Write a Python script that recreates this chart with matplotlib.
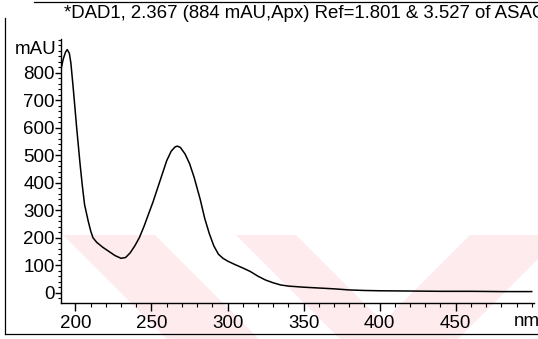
import matplotlib
matplotlib.use("Agg")
import matplotlib.pyplot as plt
from matplotlib.patches import Polygon
from matplotlib.lines import Line2D
from matplotlib.ticker import FixedLocator, MultipleLocator

# UV spectrum of the DAD1 peak at 2.367 min
wavelength_nm = [190.8, 192, 193.5, 194.6, 196, 197, 198.6, 200.8, 203, 204.5,
                 206, 208.4, 210, 211.5, 214, 218, 222, 226, 230, 233,
                 236, 239, 242, 245, 248, 251, 254, 257, 260, 263,
                 265.5, 267, 269, 272, 275, 278, 282, 285, 288, 291,
                 294, 297, 300, 305, 310, 315, 320, 325, 330, 335,
                 340, 350, 360, 370, 380, 390, 400, 420, 440, 460, 480, 500]
absorbance_mau = [820, 850, 875, 884, 870, 835, 740, 600, 470, 390,
                  320, 260, 225, 200, 183, 165, 150, 135, 125, 128,
                  145, 170, 200, 240, 285, 330, 380, 430, 480, 515,
                  530, 533, 528, 505, 470, 420, 340, 270, 215, 170,
                  140, 125, 115, 102, 90, 77, 60, 46, 36, 28,
                  24, 20, 17, 14, 10, 8, 7, 6, 5, 5, 4, 4]

y_ticks = [0, 100, 200, 300, 400, 500, 600, 700, 800]
x_ticks = [200, 250, 300, 350, 400, 450]
title_text = "*DAD1, 2.367 (884 mAU,Apx) Ref=1.801 & 3.527 of ASAC"

W, H = 538, 339
fig = plt.figure(figsize=(W / 100, H / 100), dpi=100)
plt.rcParams['font.family'] = ['Liberation Sans', 'DejaVu Sans']


def px(x, y):
    return (x / W, 1 - y / H)


# pale pink stripes in the background
pink = '#fdebee'
stripes = [
    [(63, 235), (155, 235), (259, 339), (167, 339)],
    [(236, 235), (296, 235), (400, 339), (340, 339)],
    [(470, 235), (562, 235), (458, 339), (366, 339)],
]
for pts in stripes:
    fig.patches.append(Polygon([px(*p) for p in pts], closed=True,
                               transform=fig.transFigure, facecolor=pink,
                               edgecolor='none', zorder=-5))

# outer frame
frame_kw = dict(transform=fig.transFigure, color='black', lw=0.9, zorder=1)
fig.lines.append(Line2D([5 / W, 5 / W], [1 - 18 / H, 1 - 334 / H], **frame_kw))
fig.lines.append(Line2D([5 / W, 1], [1 - 334 / H, 1 - 334 / H], **frame_kw))
fig.lines.append(Line2D([34 / W, 1], [1 - 2 / H, 1 - 2 / H], **frame_kw))

ax = fig.add_axes([61 / W, 1 - 303 / H, (534 - 61) / W, (303 - 39) / H])
ax.set_zorder(5)
ax.patch.set_visible(False)
ax.plot(wavelength_nm, absorbance_mau, color='black', lw=1.1)

ax.set_xlim(190.5, 501.5)
ax.set_ylim(-37.5, 922.5)
for s in ('top', 'right'):
    ax.spines[s].set_visible(False)
for s in ('left', 'bottom'):
    ax.spines[s].set_linewidth(1.0)

ax.yaxis.set_major_locator(FixedLocator(y_ticks))
ax.yaxis.set_minor_locator(MultipleLocator(20))
ax.xaxis.set_major_locator(FixedLocator(x_ticks))
ax.xaxis.set_minor_locator(MultipleLocator(10))
ax.tick_params(axis='y', which='major', direction='out', length=4, width=1.0,
               pad=0.5, labelsize=13.5)
ax.tick_params(axis='y', which='minor', direction='out', length=2, width=0.8)
ax.tick_params(axis='x', which='major', direction='out', length=6, width=1.0,
               pad=3, labelsize=13.5)
ax.tick_params(axis='x', which='minor', direction='out', length=3, width=0.8)

fig.text(15 / W, 1 - 50 / H, "mAU", fontsize=13.5, va='center', ha='left',
         zorder=6)
fig.text(514 / W, 1 - 322 / H, "nm", fontsize=13.5, va='center', ha='left',
         zorder=6)
fig.text(64 / W, 1 - 14 / H, title_text, fontsize=13.4, va='center', ha='left',
         zorder=6)

fig.savefig("out.png", dpi=100)
